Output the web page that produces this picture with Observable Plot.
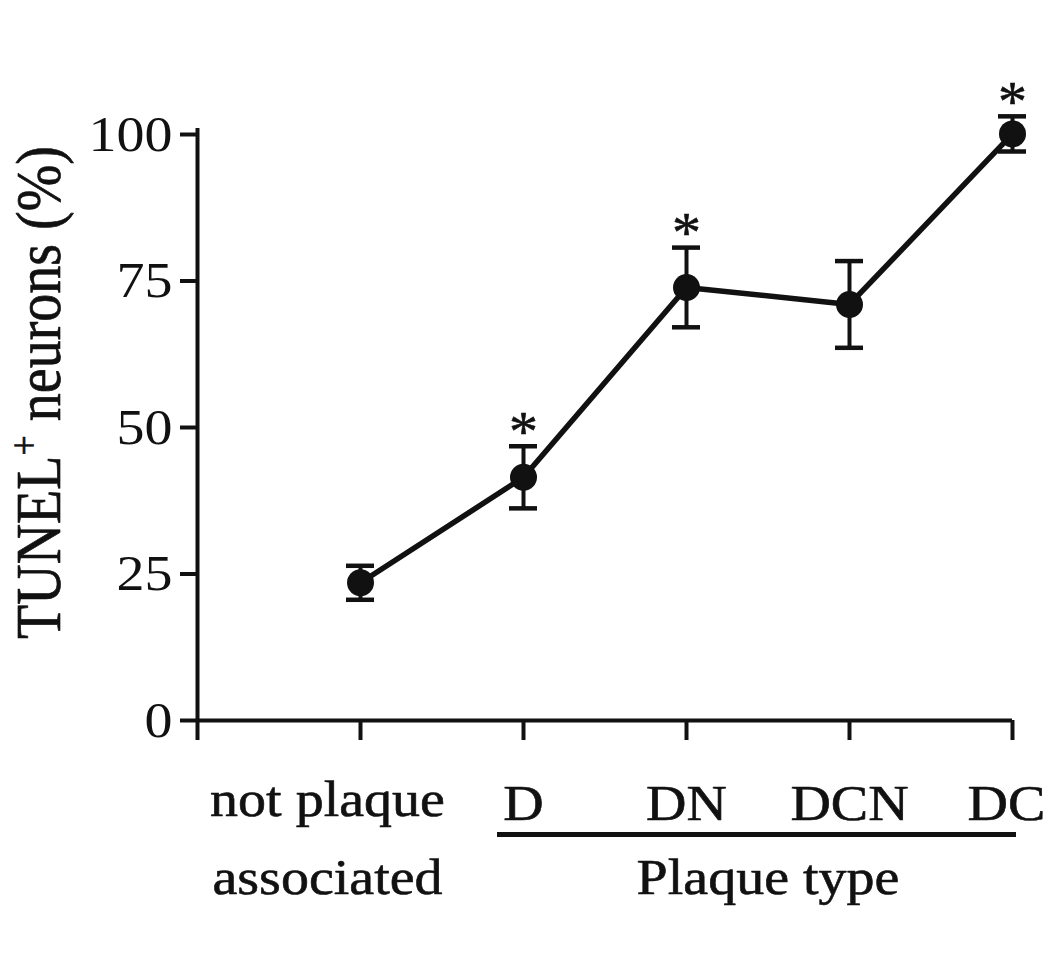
<!DOCTYPE html>
<html>
<head>
<meta charset="utf-8">
<script src="https://cdn.jsdelivr.net/npm/d3@7"></script>
<script src="https://cdn.jsdelivr.net/npm/@observablehq/plot@0.6"></script>
<style>
  html, body { margin: 0; padding: 0; background: #fff; }
</style>
</head>
<body>
<div id="chart"></div>
<script>
// ---- data ----
const categories = ["not plaque associated", "D", "DN", "DCN", "DC"];
const means = [23.5, 41.5, 73.9, 71.0, 100.1];
const errors = [2.9, 5.3, 6.8, 7.4, 3.0];
const significant = [false, true, true, false, true];
const tickLabels = ["not plaque\nassociated", "D", "DN", "DCN", "DC"];
const yTicks = [0, 25, 50, 75, 100];
const xTickPositions = [0, 1, 2, 3, 4, 5];
const groupLabel = "Plaque type";
const groupMembers = ["D", "DN", "DCN", "DC"];
const yLabel = "TUNEL+ neurons (%)";

const data = categories.map((c, i) => ({
  category: c,
  pos: i + 1,
  mean: means[i],
  lo: means[i] - errors[i],
  hi: means[i] + errors[i],
  sig: significant[i],
  label: tickLabels[i]
}));

const groupPos = groupMembers.map(g => categories.indexOf(g) + 1);
const gStart = d3.min(groupPos), gEnd = d3.max(groupPos);
const lastPos = categories.length;

const font = "Liberation Serif, Times New Roman, serif";
const ink = "#111";
const textStroke = { stroke: ink, strokeWidth: 0.6 };

const chart = Plot.plot({
  width: 1050,
  height: 954,
  marginTop: 134,
  marginBottom: 234,
  marginLeft: 197,
  marginRight: 38,
  style: { fontFamily: font, fontSize: "50px", color: ink, background: "#fff" },
  x: { domain: [0, 5], axis: null },
  y: { domain: [0, 100], axis: null },
  marks: [
    // axes lines
    Plot.ruleY([0], { strokeWidth: 4, stroke: ink }),
    Plot.ruleX([0], { strokeWidth: 4, stroke: ink, insetTop: -6 }),
    Plot.axisX({ ticks: xTickPositions, tickSize: 20, tickFormat: () => "", strokeWidth: 4, stroke: ink, label: null }),
    Plot.axisY({ ticks: yTicks, tickSize: 17, tickPadding: 8, fontSize: 50, strokeWidth: 4, stroke: ink, label: null }),
    // x tick labels
    Plot.text(data.filter(d => d.pos !== 1 && d.pos !== lastPos), {
      x: "pos", text: "label", frameAnchor: "bottom", lineAnchor: "bottom", dy: 99, fontSize: 50, fill: ink, ...textStroke
    }),
    Plot.text(data.filter(d => d.pos === lastPos), {
      x: "pos", text: "label", frameAnchor: "bottom", lineAnchor: "bottom", dy: 99, dx: -6, fontSize: 50, fill: ink, ...textStroke
    }),
    Plot.text(data.filter(d => d.pos === 1), {
      x: "pos", text: "label", frameAnchor: "bottom", lineAnchor: "bottom", dy: 173, dx: -33, fontSize: 50, lineHeight: 1.56, fill: ink, ...textStroke
    }),
    // group underline + label
    Plot.ruleY([0], { x1: gStart, x2: gEnd, dy: 114, insetLeft: -26, insetRight: -4, strokeWidth: 5, stroke: ink }),
    Plot.text([groupLabel], {
      x: (gStart + gEnd) / 2, text: d => d, frameAnchor: "bottom", lineAnchor: "bottom", dy: 173, fontSize: 50, fill: ink, ...textStroke
    }),
    // y label
    Plot.text([yLabel], {
      text: d => d, frameAnchor: "left", rotate: -90, textAnchor: "middle", lineAnchor: "bottom",
      dx: -138, dy: -35, fontSize: 56, fill: ink, ...textStroke
    }),
    // data
    Plot.line(data, { x: "pos", y: "mean", strokeWidth: 5.5, stroke: ink }),
    Plot.ruleX(data, { x: "pos", y1: "lo", y2: "hi", strokeWidth: 4, stroke: ink }),
    Plot.ruleY(data, { y: "hi", x1: "pos", x2: "pos", insetLeft: -14, insetRight: -14, strokeWidth: 4.5, stroke: ink }),
    Plot.ruleY(data, { y: "lo", x1: "pos", x2: "pos", insetLeft: -14, insetRight: -14, strokeWidth: 4.5, stroke: ink }),
    Plot.dot(data, { x: "pos", y: "mean", r: 13.5, fill: ink, stroke: "none" }),
    Plot.text(data.filter(d => d.sig), { x: "pos", y: "hi", text: () => "*", dy: -14, fontSize: 58, fill: ink, ...textStroke })
  ]
});

// superscript the "+" in the y label
const ns = "http://www.w3.org/2000/svg";
chart.querySelectorAll("text").forEach(t => {
  if (t.textContent === yLabel) {
    const parts = yLabel.split("+");
    t.textContent = "";
    const a = document.createElementNS(ns, "tspan"); a.textContent = parts[0];
    const b = document.createElementNS(ns, "tspan"); b.textContent = "+";
    b.setAttribute("font-size", "36"); b.setAttribute("baseline-shift", "super");
    const c = document.createElementNS(ns, "tspan"); c.textContent = parts[1];
    t.append(a, b, c);
  }
});

// the printed type is slightly wide: stretch glyphs horizontally (screen space)
const stretch = 1.12;
chart.querySelectorAll("text").forEach(t => {
  if (t.textContent === "*") return;
  const tr = t.getAttribute("transform") || "";
  if (/rotate/.test(tr)) t.setAttribute("transform", tr + ` scale(1,${stretch})`);
  else if (tr) t.setAttribute("transform", tr + ` scale(${stretch},1)`);
});

document.getElementById("chart").appendChild(chart);
</script>
</body>
</html>
